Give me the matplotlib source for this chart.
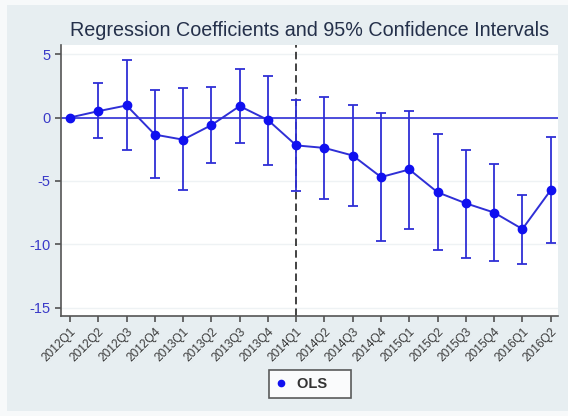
import matplotlib.pyplot as plt
import matplotlib.patches as patches
import numpy as np

plt.rcParams['font.family'] = ['Liberation Sans', 'DejaVu Sans']

# 季度与回归系数及95%置信区间
quarters = ['2012Q1', '2012Q2', '2012Q3', '2012Q4', '2013Q1', '2013Q2',
            '2013Q3', '2013Q4', '2014Q1', '2014Q2', '2014Q3', '2014Q4',
            '2015Q1', '2015Q2', '2015Q3', '2015Q4', '2016Q1', '2016Q2']
coef = [0.0, 0.5, 0.95, -1.35, -1.75, -0.6, 0.9, -0.2, -2.2, -2.4, -3.0,
        -4.7, -4.1, -5.9, -6.77, -7.5, -8.8, -5.74]
upper = [0.0, 2.7, 4.5, 2.2, 2.3, 2.4, 3.8, 3.25, 1.4, 1.6, 1.0, 0.35,
         0.5, -1.32, -2.56, -3.66, -6.08, -1.53]
lower = [0.0, -1.65, -2.6, -4.8, -5.7, -3.6, -2.0, -3.75, -5.8, -6.4, -7.0,
         -9.75, -8.77, -10.48, -11.06, -11.35, -11.56, -9.93]
yticks = [5, 0, -5, -10, -15]

x = np.arange(len(quarters))
coef = np.array(coef)
yerr = np.vstack([coef - np.array(lower), np.array(upper) - coef])

fig = plt.figure(figsize=(5.68, 4.16), dpi=100, facecolor='#f7f9fa')
# 外框背景
fig.patches.append(patches.Rectangle((7 / 568, 5 / 416), 561 / 568, 406 / 416,
                                     transform=fig.transFigure,
                                     facecolor='#e7eef1', edgecolor='none',
                                     zorder=-10))
ax = fig.add_axes([61 / 568, 1 - 316 / 416, 497 / 568, 271 / 416])
ax.set_facecolor('white')

blue = '#2f2fd6'
ax.axhline(0, color=blue, lw=1.2, zorder=2)
for t in yticks:
    ax.axhline(t, color='#eef2f4', lw=1.0, zorder=1)
ax.axvline(8, color='#222222', lw=1.2, ls=(0, (4.5, 2.5)), zorder=2)

ax.errorbar(x[1:], coef[1:], yerr=yerr[:, 1:], fmt='none', ecolor=blue,
            elinewidth=1.3, capsize=3.5, capthick=1.3, zorder=3)
ax.plot(x, coef, '-o', color=blue, lw=1.4, ms=6, mfc='#1010f0',
        mec='#1010f0', zorder=4, label='OLS')

ax.set_xlim(-0.32, 17.26)
ax.set_ylim(-15.66, 5.72)
ax.set_yticks(yticks)
ax.set_yticklabels([str(t) for t in yticks], color='#3a3ac8', fontsize=10.5)
ax.set_xticks(x)
ax.set_xticklabels(quarters, rotation=45, ha='right', rotation_mode='anchor',
                   fontsize=8.6, color='#3a3a3a')
ax.tick_params(axis='both', direction='out', length=4, width=1.1,
               color='#444444')
ax.tick_params(axis='x', pad=3)

for s in ['top', 'right']:
    ax.spines[s].set_visible(False)
for s in ['left', 'bottom']:
    ax.spines[s].set_color('#555555')
    ax.spines[s].set_linewidth(1.2)

fig.text(310 / 568, 1 - 31 / 416,
         'Regression Coefficients and 95% Confidence Intervals',
         ha='center', va='center', fontsize=14.2, color='#24304a')

leg = fig.legend(handles=[ax.lines[-1]], labels=['OLS'],
                 loc='center', bbox_to_anchor=(310 / 568, 1 - 384 / 416),
                 frameon=True, fancybox=False, fontsize=10.5, handlelength=0.6,
                 handletextpad=0.8, borderpad=0.5, borderaxespad=0,
                 markerscale=0.75)
leg.get_frame().set_edgecolor('#333333')
leg.get_frame().set_linewidth(1.2)
leg.legend_handles[0].set_linestyle('none')
for t in leg.get_texts():
    t.set_color('#333333')
    t.set_fontweight('bold')
    t.set_text('OLS    ')

fig.savefig('out.png', dpi=100, facecolor=fig.get_facecolor())
